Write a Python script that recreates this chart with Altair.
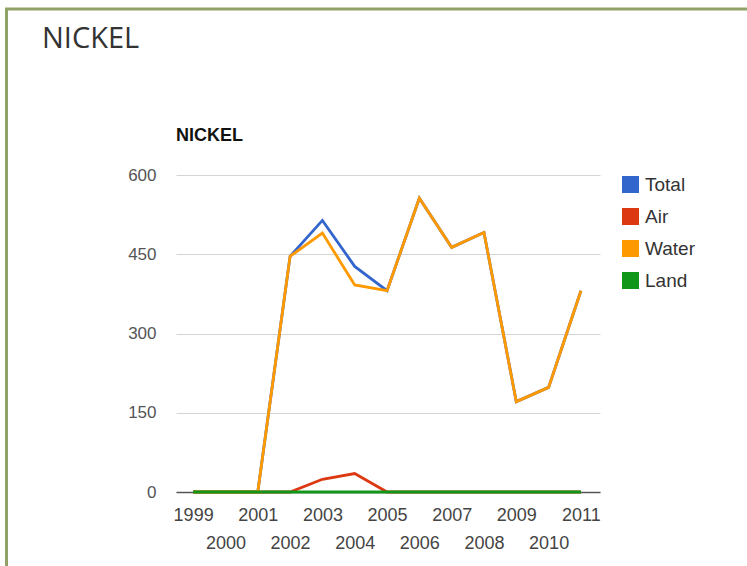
import altair as alt
import pandas as pd

# Nickel releases by medium, 1999-2011
years = [1999, 2000, 2001, 2002, 2003, 2004, 2005, 2006, 2007, 2008, 2009, 2010, 2011]
total = [0, 0, 0, 446, 514, 427, 381, 556, 463, 491, 171, 198, 381]
air = [0, 0, 0, 0, 24, 35, 0, 0, 0, 0, 0, 0, 0]
water = [0, 0, 0, 446, 490, 392, 381, 556, 463, 491, 171, 198, 381]
land = [0, 0, 0, 0, 0, 0, 0, 0, 0, 0, 0, 0, 0]

series = ["Total", "Air", "Water", "Land"]
colors = ["#3366cc", "#dc3912", "#ff9900", "#109618"]

rows = []
for name, vals in zip(series, [total, air, water, land]):
    for yr, v in zip(years, vals):
        rows.append({"year": yr, "value": v, "series": name})
df = pd.DataFrame(rows)

W, H = 424, 317
PAD_L, PAD_T = 176, 175

x_enc = alt.X(
    "year:Q",
    scale=alt.Scale(domain=[1998.47, 2011.59], nice=False, zero=False),
    axis=alt.Axis(
        title=None,
        values=years,
        grid=False,
        ticks=False,
        domain=True,
        domainColor="#555555",
        domainWidth=1.5,
        labelFont="Arial",
        labelFontSize=18,
        labelColor="#444444",
        labelPadding=14,
        labelLineHeight=28,
        labelExpr="datum.value % 2 == 0 ? ['', datum.label] : datum.label",
        labelOverlap=False,
        format="d",
    ),
)

y_enc = alt.Y(
    "value:Q",
    scale=alt.Scale(domain=[0, 600], nice=False),
    axis=alt.Axis(
        title=None,
        values=[0, 150, 300, 450, 600],
        grid=True,
        gridColor="#d4d4d4",
        gridWidth=1,
        ticks=False,
        domain=False,
        labelFont="Arial",
        labelFontSize=17,
        labelColor="#555555",
        labelPadding=20,
    ),
)

lines = alt.Chart(df).mark_line(strokeWidth=2.8).encode(
    x=x_enc,
    y=y_enc,
    color=alt.Color(
        "series:N",
        scale=alt.Scale(domain=series, range=colors),
        sort=series,
        legend=alt.Legend(
            title=None,
            orient="none",
            legendX=445,
            legendY=0,
            symbolType="square",
            symbolSize=64,
            symbolStrokeWidth=9,
            symbolOpacity=1,
            labelFont="Arial",
            labelFontSize=19,
            labelColor="#333333",
            labelOffset=5,
            rowPadding=-15,
        ),
    ),
    detail="series:N",
)

one = alt.Data(values=[{}])

# page heading in the top-left corner
heading = alt.Chart(one).mark_text(
    text="NICKEL", font="Open Sans", fontSize=29, color="#333333",
    align="left", baseline="middle",
).encode(x=alt.value(42 - PAD_L), y=alt.value(39 - PAD_T))

# chart caption above the plot
caption = alt.Chart(one).mark_text(
    text="NICKEL", font="Arial", fontSize=18, fontWeight="bold", color="#111111",
    align="left", baseline="middle",
).encode(x=alt.value(0), y=alt.value(136 - PAD_T))

# olive frame around the panel
frame = alt.Chart(one).mark_rect(
    fill=None, stroke="#91a268", strokeWidth=3,
).encode(
    x=alt.value(6.5 - PAD_L), y=alt.value(9 - PAD_T),
    x2=alt.value(800), y2=alt.value(500),
)

chart = (
    alt.layer(frame, heading, caption, lines)
    .properties(
        width=W,
        height=H,
        autosize=alt.AutoSizeParams(type="none"),
        padding={"left": PAD_L, "top": PAD_T, "right": 747 - PAD_L - W, "bottom": 566 - PAD_T - H},
        background="white",
    )
    .configure_view(stroke=None)
)

chart.save("out.html", embed_options={"renderer": "svg", "actions": False})
